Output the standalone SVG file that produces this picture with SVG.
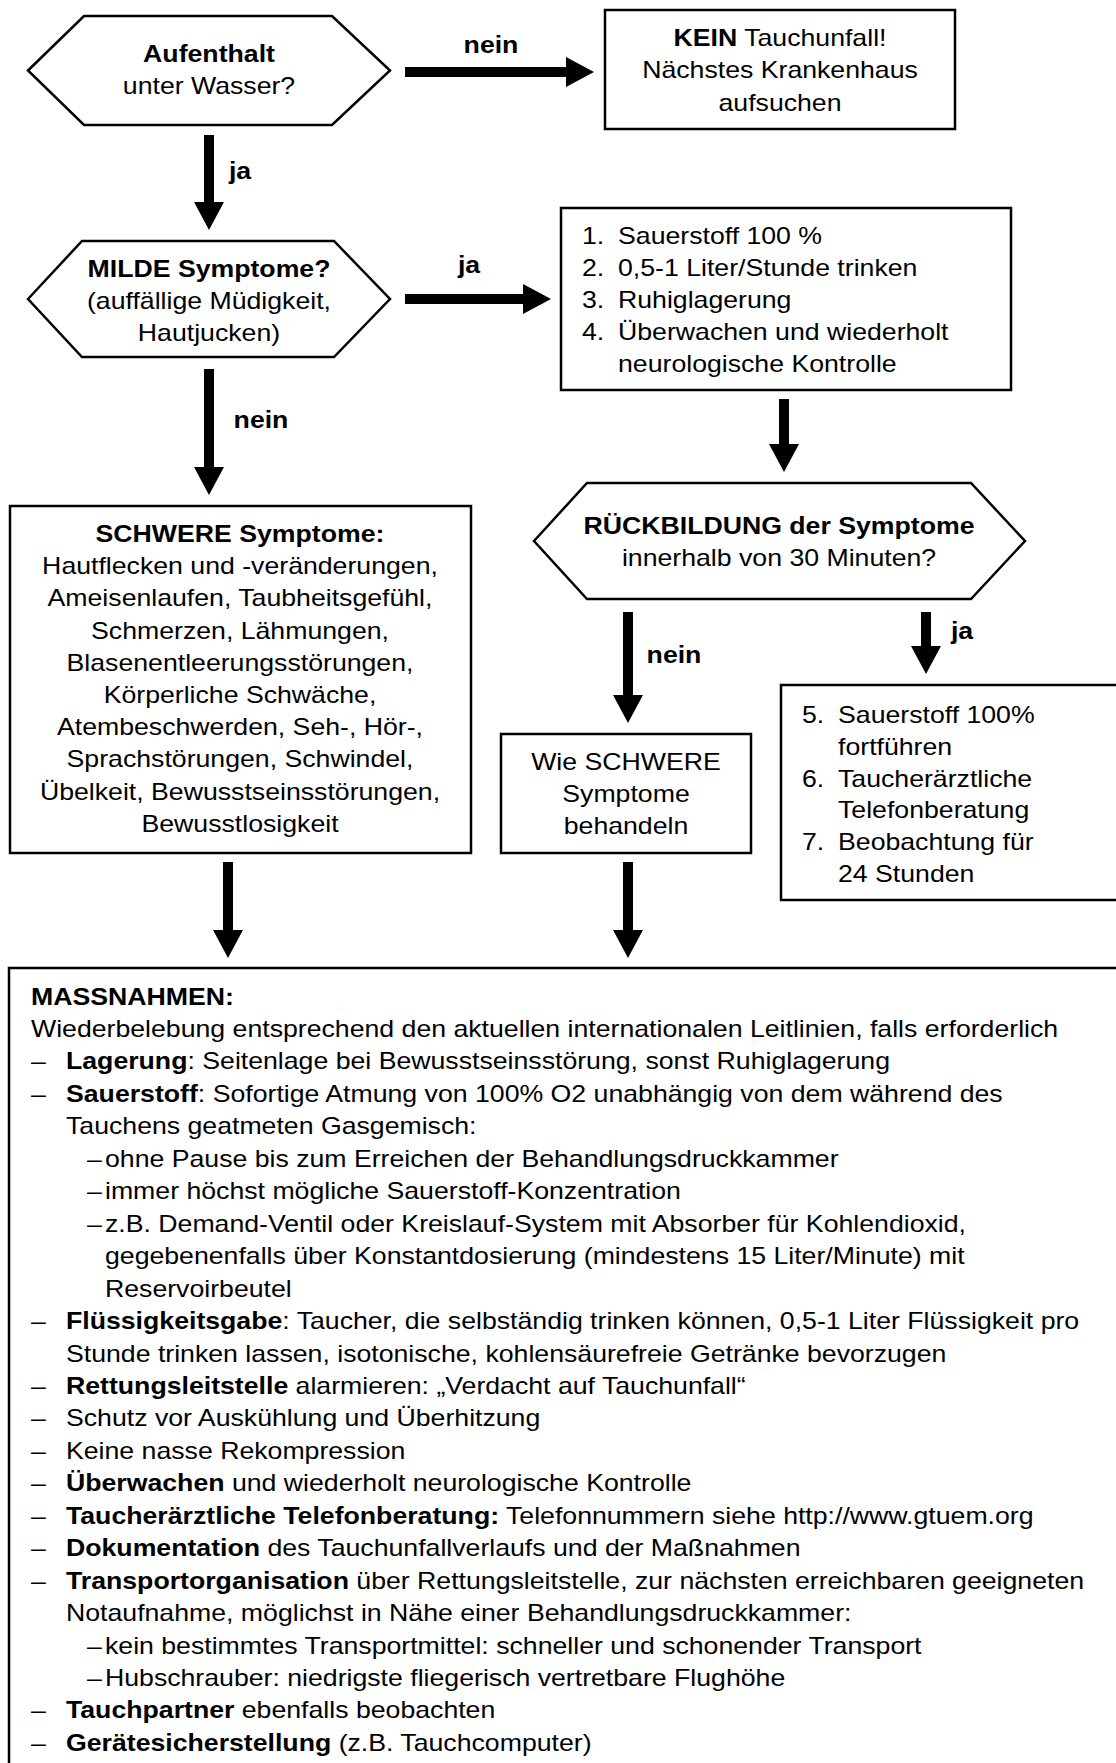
<svg xmlns="http://www.w3.org/2000/svg" width="1116" height="1763" viewBox="0 0 1116 1763">
<style>
.t{font-family:"Liberation Sans",Arial,Helvetica,sans-serif;font-size:23.4px;fill:#000}
.b{font-weight:bold}
.m{text-anchor:middle}
.box{fill:#fff;stroke:#000;stroke-width:2.5}
.arr{stroke:#000;stroke-width:10;fill:none;marker-end:url(#ah)}
</style>
<defs>
<marker id="ah" markerUnits="userSpaceOnUse" markerWidth="28" markerHeight="30" refX="0" refY="15" orient="auto"><path d="M0,0 L28,15 L0,30 Z" fill="#000"/></marker>
</defs>
<rect width="1116" height="1763" fill="#fff"/>

<g id="connectors">
<line class="arr" x1="405" y1="72" x2="566" y2="72"/>
<line class="arr" x1="209" y1="135" x2="209" y2="202"/>
<line class="arr" x1="405" y1="299" x2="523" y2="299"/>
<line class="arr" x1="209" y1="369" x2="209" y2="467"/>
<line class="arr" x1="784" y1="399" x2="784" y2="444"/>
<line class="arr" x1="628" y1="612" x2="628" y2="695"/>
<line class="arr" x1="926" y1="612" x2="926" y2="646"/>
<line class="arr" x1="228" y1="862" x2="228" y2="930"/>
<line class="arr" x1="628" y1="862" x2="628" y2="930"/>
<text class="t b m" transform="matrix(1.14 0 0 1 491 53)">nein</text>
<text class="t b m" transform="matrix(1.14 0 0 1 240 179)">ja</text>
<text class="t b m" transform="matrix(1.14 0 0 1 469 273)">ja</text>
<text class="t b m" transform="matrix(1.14 0 0 1 261 428)">nein</text>
<text class="t b m" transform="matrix(1.14 0 0 1 674 663)">nein</text>
<text class="t b m" transform="matrix(1.14 0 0 1 962 639)">ja</text>
</g>

<g id="n-aufenthalt">
<polygon class="box" points="28,70.5 84,16 332,16 390,70.5 332,125 84,125"/>
<text class="t b m" transform="matrix(1.14 0 0 1 209 62)">Aufenthalt</text>
<text class="t m" transform="matrix(1.14 0 0 1 209 94)">unter Wasser?</text>
</g>

<g id="n-kein">
<rect class="box" x="605" y="10" width="350" height="119"/>
<text class="t m" transform="matrix(1.14 0 0 1 780 45.5)"><tspan class="b">KEIN</tspan> Tauchunfall!</text>
<text class="t m" transform="matrix(1.14 0 0 1 780 78)">Nächstes Krankenhaus</text>
<text class="t m" transform="matrix(1.14 0 0 1 780 110.5)">aufsuchen</text>
</g>

<g id="n-milde">
<polygon class="box" points="28,299 82,241 334,241 390,299 334,357 82,357"/>
<text class="t b m" transform="matrix(1.14 0 0 1 209 277)">MILDE Symptome?</text>
<text class="t m" transform="matrix(1.14 0 0 1 209 309)">(auffällige Müdigkeit,</text>
<text class="t m" transform="matrix(1.14 0 0 1 209 341)">Hautjucken)</text>
</g>

<g id="n-massnahmen14">
<rect class="box" x="561" y="208" width="450" height="182"/>
<text class="t" transform="matrix(1.14 0 0 1 582 244)">1.<tspan x="31.6">Sauerstoff 100 %</tspan></text>
<text class="t" transform="matrix(1.14 0 0 1 582 276)">2.<tspan x="31.6">0,5-1 Liter/Stunde trinken</tspan></text>
<text class="t" transform="matrix(1.14 0 0 1 582 308)">3.<tspan x="31.6">Ruhiglagerung</tspan></text>
<text class="t" transform="matrix(1.14 0 0 1 582 340)">4.<tspan x="31.6">Überwachen und wiederholt</tspan></text>
<text class="t" transform="matrix(1.14 0 0 1 582 372)"><tspan x="31.6">neurologische Kontrolle</tspan></text>
</g>

<g id="n-rueckbildung">
<polygon class="box" points="534,541 587,483 971,483 1025,541 971,599 587,599"/>
<text class="t b m" transform="matrix(1.14 0 0 1 779 534)">RÜCKBILDUNG der Symptome</text>
<text class="t m" transform="matrix(1.14 0 0 1 779 566)">innerhalb von 30 Minuten?</text>
</g>

<g id="n-schwere">
<rect class="box" x="10" y="506" width="461" height="347"/>
<text class="t b m" transform="matrix(1.14 0 0 1 240 542)">SCHWERE Symptome:</text>
<text class="t m" transform="matrix(1.14 0 0 1 240 574.2)">Hautflecken und -veränderungen,</text>
<text class="t m" transform="matrix(1.14 0 0 1 240 606.4)">Ameisenlaufen, Taubheitsgefühl,</text>
<text class="t m" transform="matrix(1.14 0 0 1 240 638.6)">Schmerzen, Lähmungen,</text>
<text class="t m" transform="matrix(1.14 0 0 1 240 670.8)">Blasenentleerungsstörungen,</text>
<text class="t m" transform="matrix(1.14 0 0 1 240 703)">Körperliche Schwäche,</text>
<text class="t m" transform="matrix(1.14 0 0 1 240 735.2)">Atembeschwerden, Seh-, Hör-,</text>
<text class="t m" transform="matrix(1.14 0 0 1 240 767.4)">Sprachstörungen, Schwindel,</text>
<text class="t m" transform="matrix(1.14 0 0 1 240 799.6)">Übelkeit, Bewusstseinsstörungen,</text>
<text class="t m" transform="matrix(1.14 0 0 1 240 831.8)">Bewusstlosigkeit</text>
</g>

<g id="n-wie">
<rect class="box" x="501" y="734" width="250" height="119"/>
<text class="t m" transform="matrix(1.14 0 0 1 626 770)">Wie SCHWERE</text>
<text class="t m" transform="matrix(1.14 0 0 1 626 802)">Symptome</text>
<text class="t m" transform="matrix(1.14 0 0 1 626 834)">behandeln</text>
</g>

<g id="n-massnahmen57">
<rect class="box" x="781" y="685" width="345" height="215"/>
<text class="t" transform="matrix(1.14 0 0 1 802 723)">5.<tspan x="31.6">Sauerstoff 100%</tspan></text>
<text class="t" transform="matrix(1.14 0 0 1 802 755)"><tspan x="31.6">fortführen</tspan></text>
<text class="t" transform="matrix(1.14 0 0 1 802 786.6)">6.<tspan x="31.6">Taucherärztliche</tspan></text>
<text class="t" transform="matrix(1.14 0 0 1 802 818.4)"><tspan x="31.6">Telefonberatung</tspan></text>
<text class="t" transform="matrix(1.14 0 0 1 802 850)">7.<tspan x="31.6">Beobachtung für</tspan></text>
<text class="t" transform="matrix(1.14 0 0 1 802 882)"><tspan x="31.6">24 Stunden</tspan></text>
</g>

<g id="n-massnahmen">
<rect class="box" x="9" y="968" width="1120" height="820"/>
<text class="t b" transform="matrix(1.14 0 0 1 31 1004.5)">MASSNAHMEN:</text>
<text class="t" transform="matrix(1.14 0 0 1 31 1037)">Wiederbelebung entsprechend den aktuellen internationalen Leitlinien, falls erforderlich</text>
<text class="t" transform="matrix(1.14 0 0 1 31 1069.4)">–<tspan x="30.7" class="b">Lagerung</tspan>: Seitenlage bei Bewusstseinsstörung, sonst Ruhiglagerung</text>
<text class="t" transform="matrix(1.14 0 0 1 31 1101.9)">–<tspan x="30.7" class="b">Sauerstoff</tspan>: Sofortige Atmung von 100% O2 unabhängig von dem während des</text>
<text class="t" transform="matrix(1.14 0 0 1 31 1134.3)"><tspan x="30.7">Tauchens geatmeten Gasgemisch:</tspan></text>
<text class="t" transform="matrix(1.14 0 0 1 31 1166.8)"><tspan x="49.1">–</tspan><tspan x="64.9">ohne Pause bis zum Erreichen der Behandlungsdruckkammer</tspan></text>
<text class="t" transform="matrix(1.14 0 0 1 31 1199.2)"><tspan x="49.1">–</tspan><tspan x="64.9">immer höchst mögliche Sauerstoff-Konzentration</tspan></text>
<text class="t" transform="matrix(1.14 0 0 1 31 1231.7)"><tspan x="49.1">–</tspan><tspan x="64.9">z.B. Demand-Ventil oder Kreislauf-System mit Absorber für Kohlendioxid,</tspan></text>
<text class="t" transform="matrix(1.14 0 0 1 31 1264.1)"><tspan x="64.9">gegebenenfalls über Konstantdosierung (mindestens 15 Liter/Minute) mit</tspan></text>
<text class="t" transform="matrix(1.14 0 0 1 31 1296.6)"><tspan x="64.9">Reservoirbeutel</tspan></text>
<text class="t" transform="matrix(1.14 0 0 1 31 1329)">–<tspan x="30.7" class="b">Flüssigkeitsgabe</tspan>: Taucher, die selbständig trinken können, 0,5-1 Liter Flüssigkeit pro</text>
<text class="t" transform="matrix(1.14 0 0 1 31 1361.5)"><tspan x="30.7">Stunde trinken lassen, isotonische, kohlensäurefreie Getränke bevorzugen</tspan></text>
<text class="t" transform="matrix(1.14 0 0 1 31 1393.9)">–<tspan x="30.7" class="b">Rettungsleitstelle</tspan> alarmieren: „Verdacht auf Tauchunfall“</text>
<text class="t" transform="matrix(1.14 0 0 1 31 1426.4)">–<tspan x="30.7">Schutz vor Auskühlung und Überhitzung</tspan></text>
<text class="t" transform="matrix(1.14 0 0 1 31 1458.8)">–<tspan x="30.7">Keine nasse Rekompression</tspan></text>
<text class="t" transform="matrix(1.14 0 0 1 31 1491.3)">–<tspan x="30.7" class="b">Überwachen</tspan> und wiederholt neurologische Kontrolle</text>
<text class="t" transform="matrix(1.14 0 0 1 31 1523.7)">–<tspan x="30.7" class="b">Taucherärztliche Telefonberatung:</tspan> Telefonnummern siehe http://www.gtuem.org</text>
<text class="t" transform="matrix(1.14 0 0 1 31 1556.2)">–<tspan x="30.7" class="b">Dokumentation</tspan> des Tauchunfallverlaufs und der Maßnahmen</text>
<text class="t" transform="matrix(1.14 0 0 1 31 1588.6)">–<tspan x="30.7" class="b">Transportorganisation</tspan> über Rettungsleitstelle, zur nächsten erreichbaren geeigneten</text>
<text class="t" transform="matrix(1.14 0 0 1 31 1621.1)"><tspan x="30.7">Notaufnahme, möglichst in Nähe einer Behandlungsdruckkammer:</tspan></text>
<text class="t" transform="matrix(1.14 0 0 1 31 1653.5)"><tspan x="49.1">–</tspan><tspan x="64.9">kein bestimmtes Transportmittel: schneller und schonender Transport</tspan></text>
<text class="t" transform="matrix(1.14 0 0 1 31 1686)"><tspan x="49.1">–</tspan><tspan x="64.9">Hubschrauber: niedrigste fliegerisch vertretbare Flughöhe</tspan></text>
<text class="t" transform="matrix(1.14 0 0 1 31 1718.4)">–<tspan x="30.7" class="b">Tauchpartner</tspan> ebenfalls beobachten</text>
<text class="t" transform="matrix(1.14 0 0 1 31 1750.9)">–<tspan x="30.7" class="b">Gerätesicherstellung</tspan> (z.B. Tauchcomputer)</text>
</g>
</svg>
